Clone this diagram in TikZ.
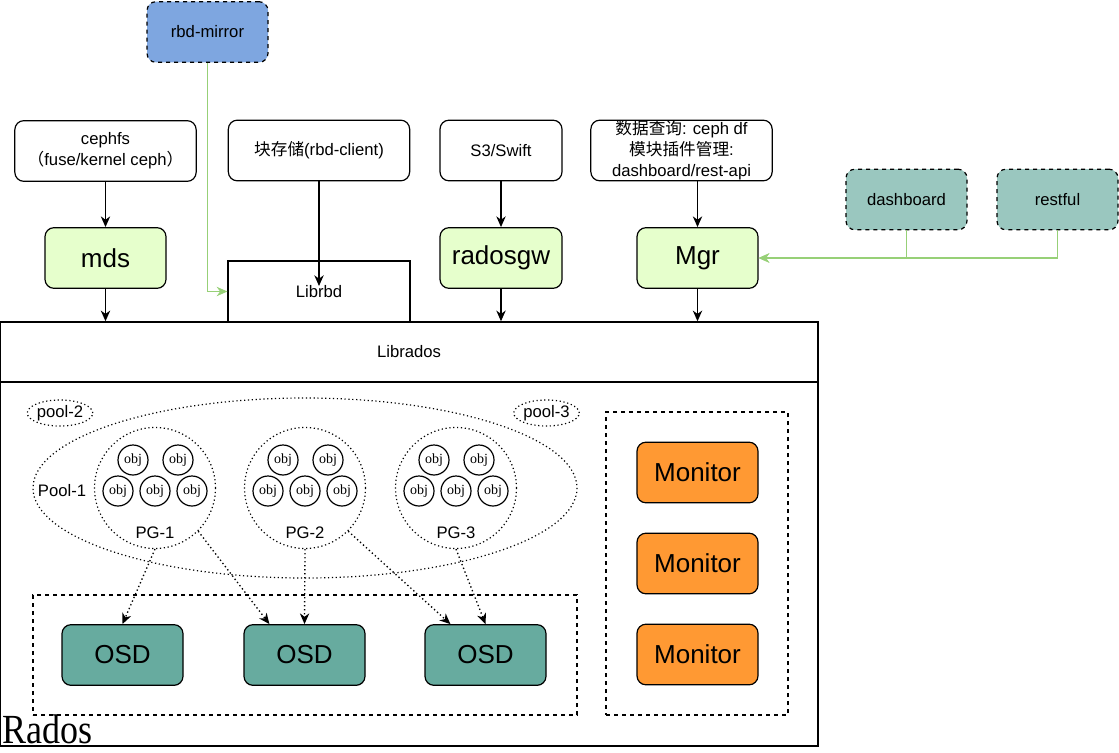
\documentclass[tikz,border=0pt]{standalone}
\usepackage{fontspec}
\setmainfont{Liberation Sans}
\newfontfamily\cjk{Noto Sans CJK SC}
\newfontfamily\serifx{Liberation Serif}
\usetikzlibrary{arrows.meta,calc,shapes.geometric}
\definecolor{mirrorblue}{HTML}{7EA6E0}
\definecolor{lightgreen}{HTML}{E6FFCC}
\definecolor{tealbox}{HTML}{9AC7BF}
\definecolor{osdcol}{HTML}{67AB9F}
\definecolor{moncol}{HTML}{FF9933}
\definecolor{linegreen}{HTML}{97D077}
\tikzset{
  box/.style={draw, rounded corners=6.75pt, line width=0.9pt, align=center, inner sep=0pt,
    font=\fontsize{12.5}{15.75}\selectfont, minimum width=90.75pt, minimum height=45.5pt},
  widebox/.style={box, minimum width=136pt},
  plainbox/.style={draw, line width=0.9pt, inner sep=0pt, align=center, font=\fontsize{12.5}{15}\selectfont},
  bigtext/.style={font=\fontsize{19.5}{23}\selectfont},
  greenbox/.style={box, fill=lightgreen, bigtext},
  dashbox/.style={box, dashed, fill=tealbox},
  osdbox/.style={box, fill=osdcol, bigtext},
  monbox/.style={box, fill=moncol, bigtext},
  pgcircle/.style={circle, draw, dotted, line width=0.9pt, minimum size=90.75pt, inner sep=0pt},
  objc/.style={circle, draw, line width=0.9pt, minimum size=22.5pt, inner sep=0pt, font=\serifx\fontsize{10.5}{12}\selectfont},
  lbl/.style={inner sep=0pt, font=\fontsize{12.5}{15}\selectfont},
  blackarrow/.style={draw, line width=1pt, -{Stealth[length=8pt,width=7pt,inset=2.5pt]}},
  greenarrow/.style={draw=linegreen, line width=1.2pt, -{Stealth[length=8pt,width=7pt,inset=2.5pt]}, color=linegreen},
  dotarrow/.style={draw, dotted, line width=1pt, -{Stealth[length=8pt,width=7pt,inset=2.5pt]}},
  poolell/.style={draw, dotted, line width=0.9pt, ellipse, minimum width=46.5pt, minimum height=19.5pt, inner sep=0pt, lbl},
}
\begin{document}
\begin{tikzpicture}[x=0.75pt,y=-0.75pt]
\useasboundingbox (0,0) rectangle (1119,752);

% top boxes
\node[dashbox, fill=mirrorblue] (rbdmirror) at (207.5,32) {rbd-mirror};
\node[widebox] (cephfs) at (105.5,151) {cephfs\\{\cjk （}fuse/kernel ceph{\cjk ）}};
\node[widebox] (blk) at (319,150.5) {{\cjk 块存储}(rbd-client)};
\node[box, minimum width=91.5pt] (s3) at (501,150.5) {S3/Swift};
\node[widebox] (mgrq) at (681.5,150.5) {{\cjk 数据查询}: ceph df\\{\cjk 模块插件管理}:\\dashboard/rest-api};

% second row
\node[greenbox] (mds) at (105.5,258) {mds};
\node[plainbox, minimum width=136.5pt, minimum height=45.75pt] (librbd) at (319,291.5) {Librbd};
\node[greenbox, minimum width=91.5pt] (radosgw) at (501,258) {radosgw};
\node[greenbox] (mgr) at (697.5,258) {Mgr};
\node[dashbox] (dashboard) at (906.5,199.5) {dashboard};
\node[dashbox] (restful) at (1057.5,199.5) {restful};

% librados & rados
\node[plainbox, line width=1.1pt, minimum width=613.5pt, minimum height=45pt] (librados) at (409,352) {\raisebox{-1.5pt}{Librados}};
\node[draw, line width=1.1pt, inner sep=0pt, minimum width=613.5pt, minimum height=273pt] (rados) at (409,564) {};
\node[anchor=base west, inner sep=0pt, font=\serifx\fontsize{27}{30}\selectfont] (radoslbl) at (2,743) {\scalebox{1}[1.15]{Rados}};

% pools
\draw[dotted, line width=0.9pt] (305,488) ellipse [x radius=272, y radius=90];
\node[poolell] (pool2) at (60,413) {pool-2};
\node[poolell] (pool3) at (546.5,413) {pool-3};
\node[lbl] (pool1) at (62,491) {Pool-1};

% PGs
\foreach \n/\cx in {1/155,2/305,3/456}{
  \node[pgcircle] (pg\n) at (\cx,488) {};
  \node[lbl] (pglbl\n) at (\cx,533) {PG-\n};
  \node[objc] (o\n a) at (\cx-22,460) {obj};
  \node[objc] (o\n b) at (\cx+23,460) {obj};
  \node[objc] (o\n c) at (\cx-37,491) {obj};
  \node[objc] (o\n d) at (\cx,491) {obj};
  \node[objc] (o\n e) at (\cx+37,491) {obj};
}

% OSD group
\node[draw, dashed, line width=0.9pt, minimum width=408pt, minimum height=90pt, inner sep=0pt] (osdgroup) at (305,655) {};
\node[osdbox] (osd1) at (122.5,655) {OSD};
\node[osdbox] (osd2) at (304.5,655) {OSD};
\node[osdbox] (osd3) at (485.5,655) {OSD};

% Monitor group
\node[draw, dashed, line width=0.9pt, minimum width=136.5pt, minimum height=227.25pt, inner sep=0pt] (mongroup) at (697,563.5) {};
\node[monbox] (mon1) at (697.5,472.5) {Monitor};
\node[monbox] (mon2) at (697.5,563.5) {Monitor};
\node[monbox] (mon3) at (697.5,654.5) {Monitor};

% arrows
\draw[blackarrow] (cephfs.south) -- (mds.north);
\draw[blackarrow] (mds.south) -- (mds.south |- librados.north);
\coordinate (librbdin) at (319,286);
\draw[blackarrow] (blk.south) -- (librbdin);
\draw[blackarrow] (s3.south) -- (radosgw.north);
\draw[blackarrow] (radosgw.south) -- (radosgw.south |- librados.north);
\draw[blackarrow] (mgrq.south -| mgr.north) -- (mgr.north);
\draw[blackarrow] (mgr.south) -- (mgr.south |- librados.north);

\draw[greenarrow] (rbdmirror.south) |- (librbd.west);
\draw[greenarrow] (dashboard.south) |- (mgr.east);
\draw[greenarrow] (restful.south) |- (mgr.east);

\draw[dotarrow] (pg1.south) -- (osd1.north);
\draw[dotarrow] (pg1.-45) -- ($(osd2.north west)+(26,0)$);
\draw[dotarrow] (pg2.south) -- (osd2.north);
\draw[dotarrow] (pg2.-45) -- ($(osd3.north west)+(26,0)$);
\draw[dotarrow] (pg3.south) -- (osd3.north);
\end{tikzpicture}
\end{document}
